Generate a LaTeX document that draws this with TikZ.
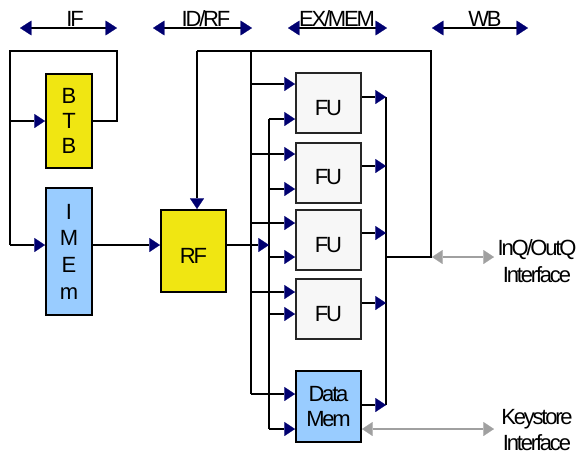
\documentclass[tikz,border=0pt]{standalone}
\usepackage{fontspec}
\setmainfont{Liberation Sans}[LetterSpace=-10]
\usetikzlibrary{arrows.meta}
\definecolor{navyc}{HTML}{000070}
\definecolor{yel}{HTML}{F0E612}
\definecolor{lblue}{HTML}{99CCFF}
\definecolor{fugray}{HTML}{F7F7F7}
\definecolor{grayc}{HTML}{A0A0A0}
\tikzset{
  box/.style={draw=black, line width=1.5pt, inner sep=0pt, minimum width=34.5pt},
  fubox/.style={box, fill=fugray, draw=black!85, minimum width=48.75pt, minimum height=45pt, text height=18pt, text depth=0pt},
  wire/.style={line width=1.5pt, line cap=butt},
  arr/.style={wire, -{Triangle[length=8pt,width=10.5pt,line width=0.1pt,color=navyc]}},
  stage/.style={line width=1.5pt, {Triangle[length=8.5pt,width=11pt,line width=0.1pt,color=navyc]}-{Triangle[length=8.5pt,width=11pt,line width=0.1pt,color=navyc]}},
  garr/.style={line width=1.6pt, draw=grayc, {Triangle[length=8pt,width=10.5pt,line width=0.1pt]}-{Triangle[length=8pt,width=10.5pt,line width=0.1pt]}},
  lbl/.style={inner sep=0pt, align=center}
}
\begin{document}
\begin{tikzpicture}[x=0.75pt,y=-0.75pt, font=\fontsize{16.5pt}{20pt}\selectfont]
\useasboundingbox (0,0) rectangle (576,455);
% boxes
\node[box, fill=yel, minimum height=70.5pt, align=center, font=\fontsize{16.5pt}{18.75pt}\selectfont] (btb) at (69,121) {B\\T\\B};
\node[box, fill=lblue, minimum height=95.25pt, align=center] (imem) at (69,251.5) {I\\M\\E\\m};
\node[box, fill=yel, minimum width=48.75pt, minimum height=61.5pt, text height=18pt, text depth=0pt] (rf) at (193.5,251) {RF};
\node[fubox] (fu1) at (328.5,103) {FU};
\node[fubox] (fu2) at (328.5,172.5) {FU};
\node[fubox] (fu3) at (328.5,240) {FU};
\node[fubox] (fu4) at (328.5,309) {FU};
\node[box, fill=lblue, minimum width=48.75pt, minimum height=53.25pt, align=center, font=\fontsize{16.5pt}{19pt}\selectfont] (dm) at (328.5,406.5) {Data\\Mem};
% coordinates
\coordinate (lt) at (10,51);
\coordinate (lr) at (117,51);
\coordinate (lb) at (10,245);
\coordinate (ra) at (197,51);
\coordinate (fbt) at (431,51);
\coordinate (fbb) at (431,257);
\coordinate (ba) at (251,51);
\coordinate (abot) at (251,394);
\coordinate (bb) at (269,119);
\coordinate (bbot) at (269,429);
\coordinate (bo) at (386,97);
\coordinate (bobot) at (386,405);
\coordinate (inqend) at (494,257);
\coordinate (keyend) at (494,429);
% IF loop
\draw[wire] (btb.east) -| (lr) -- (lt) -- (lb);
\draw[arr] (lt |- btb.west) -- (btb.west);
\draw[arr] (lb) -- (lb -| imem.west);
\draw[arr] (lb -| imem.east) -- (lb -| rf.west);
% feedback to RF
\draw[arr] (ra) -- (ra |- rf.north);
\draw[wire] (ra) -- (fbt) -- (fbb) -- (fbb -| bo);
% buses
\draw[wire] (ba) -- (abot);
\draw[wire] (bb) -- (bbot);
\draw[wire] (bo) -- (bobot);
\draw[arr] (lb -| rf.east) -- (lb -| bb);
% inputs
\foreach \n/\ya/\yb in {fu1/84/119, fu2/154/189, fu3/223/257, fu4/292/314, dm/394/429} {
  \draw[arr] (ba |- 0,\ya) -- (\n.west |- 0,\ya);
  \draw[arr] (bb |- 0,\yb) -- (\n.west |- 0,\yb);
}
% outputs
\foreach \n/\y in {fu1/97, fu2/166, fu3/233, fu4/303, dm/405} {
  \draw[arr] (\n.east |- 0,\y) -- (bo |- 0,\y);
}
% interfaces
\draw[garr] ([xshift=0.75pt]fbb) -- (inqend);
\draw[garr] (dm.east |- keyend) -- (keyend);
\node[lbl] (inq) at (537,261) {InQ/OutQ\\Interface};
\node[lbl] (key) at (537,430) {Keystore\\Interface};
% stages
\draw[stage] (20,28) -- (117,28);
\draw[stage] (153,28) -- (252,28);
\draw[stage] (288,28) -- (387,28);
\draw[stage] (432,28) -- (528,28);
\node[lbl, anchor=base] (sif) at (75,26) {IF};
\node[lbl, anchor=base] (sid) at (206,26) {ID/RF};
\node[lbl, anchor=base] (sex) at (337,26) {EX/MEM};
\node[lbl, anchor=base] (swb) at (485,26) {WB};
\end{tikzpicture}
\end{document}
